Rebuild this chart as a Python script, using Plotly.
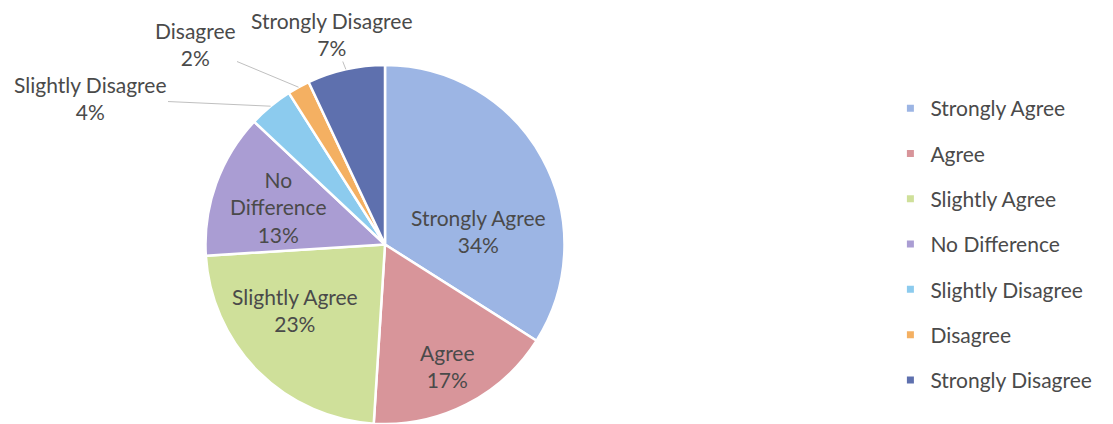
import math
import plotly.graph_objects as go

categories = ["Strongly Agree", "Agree", "Slightly Agree", "No Difference",
              "Slightly Disagree", "Disagree", "Strongly Disagree"]
values = [34, 17, 23, 13, 4, 2, 7]
display = ["Strongly Agree", "Agree", "Slightly Agree", "No<br>Difference",
           "Slightly Disagree", "Disagree", "Strongly Disagree"]
colors = ["#9cb5e4", "#d8959a", "#cfe09a", "#aa9dd3", "#8ccbee", "#f4b062", "#5e70ae"]

W, H = 1113, 424
FONT = "Lato"
TXT = "#4a4a4a"

# pie geometry (pixels)
cx, cy, r = 385, 244.5, 179.5
dom_x = [(cx - r) / W, (cx + r) / W]
dom_y = [0, (2 * r) / H]

fig = go.Figure()
fig.add_trace(go.Pie(
    labels=categories, values=values, sort=False, direction="clockwise",
    rotation=0,
    marker=dict(colors=colors, line=dict(color="white", width=2.5)),
    textinfo="none", showlegend=False, hoverinfo="label+percent",
    domain=dict(x=dom_x, y=dom_y),
))

# data labels (text positions in pixels); leader lines go to slice mid-angle edge
label_pos = {0: (478, 231), 1: (447, 366), 2: (295, 310), 3: (278, 207),
             4: (90, 98), 5: (195, 44), 6: (332, 34)}
outside = {4, 5, 6}
total = sum(values)
cum = 0
for i, v in enumerate(values):
    mid = (cum + v / 2) / total * 2 * math.pi
    cum += v
    lx, ly = label_pos[i]
    text = f"{display[i]}<br>{round(v / total * 100)}%"
    font = dict(family=FONT, size=21, color=TXT)
    if i in outside:
        ex = cx + r * math.sin(mid)
        ey = cy - r * math.cos(mid)
        fig.add_annotation(
            x=ex / W, y=1 - ey / H, xref="paper", yref="paper",
            ax=lx - ex, ay=ly - ey, axref="pixel", ayref="pixel",
            text=text, showarrow=True, arrowhead=0, arrowwidth=1,
            arrowcolor="#c0c0c0", font=font, align="center",
        )
    else:
        fig.add_annotation(
            x=lx / W, y=1 - ly / H, xref="paper", yref="paper",
            xanchor="center", yanchor="middle",
            text=text, showarrow=False, font=font, align="center",
        )

# legend entries
for c, col in zip(categories, colors):
    fig.add_trace(go.Scatter(
        x=[None], y=[None], mode="markers", name=c, legendgroup=c,
        marker=dict(symbol="square", size=7, color=col),
    ))

fig.update_layout(
    width=W, height=H, margin=dict(l=0, r=0, t=0, b=0),
    paper_bgcolor="white", plot_bgcolor="white",
    xaxis=dict(visible=False), yaxis=dict(visible=False),
    legend=dict(x=0.80, y=1 - 88 / H, xanchor="left", yanchor="top",
                font=dict(family=FONT, size=21, color=TXT),
                tracegroupgap=15, itemwidth=30, bgcolor="rgba(0,0,0,0)"),
)
fig.write_html("out.html")
